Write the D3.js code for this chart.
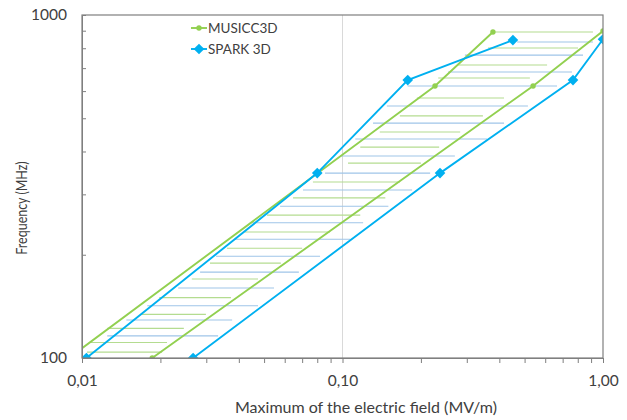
<!DOCTYPE html>
<html>
<head>
<meta charset="utf-8">
<script src="https://cdn.jsdelivr.net/npm/d3@7"></script>
<style>
  body { margin: 0; background: #fff; }
  text { font-family: Lato, "Open Sans", sans-serif; fill: #404040; }
</style>
</head>
<body>
<div id="chart"></div>
<script>
// MUSICC3D boundaries (field in MV/m, frequency in MHz)
const musiccLeftField = [0.0089, 0.2265, 0.378];
const musiccLeftFreq = [100, 621, 892];
const musiccRightField = [1.0, 0.539, 0.0186];
const musiccRightFreq = [898, 621, 100];

// SPARK 3D boundaries
const sparkLeftField = [0.0104, 0.08, 0.178, 0.451];
const sparkLeftFreq = [100, 346, 646, 845];
const sparkRightField = [1.0, 0.767, 0.2368, 0.0267];
const sparkRightFreq = [850, 646, 346, 100];

// hatching (frequency, field from, field to)
const greenHatchFreq = [892, 801, 715, 655, 573, 508, 456, 412, 370, 326, 293, 261, 233, 209, 189, 170, 150, 134, 122, 111, 104];
const greenHatchFrom = [0.385, 0.362, 0.278, 0.233, 0.193, 0.166, 0.139, 0.117, 0.105, 0.077, 0.0646, 0.0513, 0.0422, 0.036, 0.031, 0.0264, 0.0198, 0.0168, 0.0125, 0.0108, 0.01045];
const greenHatchTo = [0.915, 0.802, 0.61, 0.524, 0.417, 0.346, 0.283, 0.235, 0.2, 0.166, 0.146, 0.117, 0.0895, 0.07, 0.058, 0.0474, 0.0373, 0.0299, 0.0246, 0.0212, 0.0203];

const blueHatchFreq = [834, 764, 682, 621, 543, 484, 435, 388, 346, 309, 277, 248, 222, 198, 178, 160, 142, 129, 116];
const blueHatchFrom = [0.468, 0.295, 0.254, 0.178, 0.148, 0.131, 0.112, 0.0978, 0.0857, 0.0705, 0.0576, 0.0441, 0.0383, 0.0327, 0.0284, 0.0234, 0.0178, 0.0148, 0.0125];
const blueHatchTo = [0.915, 0.838, 0.76, 0.666, 0.515, 0.417, 0.359, 0.27, 0.217, 0.185, 0.15, 0.12, 0.107, 0.082, 0.068, 0.0546, 0.0474, 0.0377, 0.0333];

const xMinor = [0.02, 0.03, 0.04, 0.05, 0.06, 0.07, 0.08, 0.09, 0.2, 0.3, 0.4, 0.5, 0.6, 0.7, 0.8, 0.9];
const xMajor = [0.01, 0.1, 1];
const yMinor = [200, 300, 400, 500, 600, 700, 800, 900];
const yMajor = [100, 1000];

const seriesNames = ["MUSICC3D", "SPARK 3D"];
const green = "#92d050", blue = "#00b0f0";

const W = 627, H = 420;
const margin = { top: 15, right: 24, bottom: 62, left: 82 };

const svg = d3.select("#chart").append("svg")
  .attr("width", W).attr("height", H);

const x = d3.scaleLog().domain([0.01, 1]).range([margin.left, W - margin.right]);
const y = d3.scaleLog().domain([100, 1000]).range([H - margin.bottom, margin.top]);

svg.append("clipPath").attr("id", "plot-clip")
  .append("rect")
  .attr("x", x(0.01)).attr("y", y(1000))
  .attr("width", x(1) - x(0.01)).attr("height", y(100) - y(1000));

// vertical gridline at 0,10
svg.append("line")
  .attr("x1", x(0.1)).attr("x2", x(0.1))
  .attr("y1", y(1000)).attr("y2", y(100))
  .attr("stroke", "#d9d9d9").attr("stroke-width", 1);

const plot = svg.append("g").attr("clip-path", "url(#plot-clip)");

function hatch(freq, from, to, color) {
  plot.append("g").selectAll("line")
    .data(freq.map((f, i) => ({ f: f, a: from[i], b: to[i] })))
    .enter().append("line")
    .attr("x1", d => x(d.a)).attr("x2", d => x(d.b))
    .attr("y1", d => y(d.f)).attr("y2", d => y(d.f))
    .attr("stroke", color).attr("stroke-width", 1.1);
}
hatch(greenHatchFreq, greenHatchFrom, greenHatchTo, "#b4dc90");
hatch(blueHatchFreq, blueHatchFrom, blueHatchTo, "#9fc5e8");

const line = d3.line().x(d => x(d[0])).y(d => y(d[1]));
const zip = (a, b) => a.map((v, i) => [v, b[i]]);

const diamond = d3.symbol().type(d3.symbolDiamond2).size(72);

function series(field, freq, color, isDiamond) {
  const pts = zip(field, freq);
  plot.append("path").datum(pts)
    .attr("d", line).attr("fill", "none")
    .attr("stroke", color).attr("stroke-width", 1.9);
  if (isDiamond) {
    plot.append("g").selectAll("path").data(pts).enter().append("path")
      .attr("d", diamond)
      .attr("transform", d => `translate(${x(d[0])},${y(d[1])})`)
      .attr("fill", color);
  } else {
    plot.append("g").selectAll("circle").data(pts).enter().append("circle")
      .attr("cx", d => x(d[0])).attr("cy", d => y(d[1])).attr("r", 2.7)
      .attr("fill", color);
  }
}
series(musiccLeftField, musiccLeftFreq, green, false);
series(musiccRightField, musiccRightFreq, green, false);
series(sparkLeftField, sparkLeftFreq, blue, true);
series(sparkRightField, sparkRightFreq, blue, true);

// axes
const axisColor = "#7f7f7f";
const fmt = d => d3.format(".2f")(d).replace(".", ",");

svg.append("g").attr("transform", `translate(0,${y(100)})`)
  .call(d3.axisBottom(x).tickValues(xMinor.concat(xMajor)).tickSize(5).tickFormat(""));
const xLabels = svg.append("g").attr("transform", `translate(0,${y(100)})`)
  .call(d3.axisBottom(x).tickValues(xMajor).tickSize(0).tickPadding(17).tickFormat(fmt));
xLabels.select(".domain").remove();

svg.append("g").attr("transform", `translate(${x(0.01)},0)`)
  .call(d3.axisRight(y).tickValues(yMinor).tickSize(4).tickFormat(""));
const yLabels = svg.append("g").attr("transform", `translate(${x(0.01)},0)`)
  .call(d3.axisLeft(y).tickValues(yMajor).tickSize(0).tickPadding(15).tickFormat(d3.format("d")));
yLabels.select(".domain").remove();

svg.selectAll(".tick line").attr("stroke", axisColor);
svg.selectAll(".domain").attr("stroke", axisColor);
svg.selectAll(".tick text").style("font-size", "15.5px").attr("fill", "#404040");

// frame
svg.append("rect")
  .attr("x", x(0.01)).attr("y", y(1000))
  .attr("width", x(1) - x(0.01)).attr("height", y(100) - y(1000))
  .attr("fill", "none").attr("stroke", axisColor).attr("stroke-width", 1.2);

// axis titles
svg.append("text")
  .attr("x", 366).attr("y", 407).attr("dy", "0.35em")
  .attr("text-anchor", "middle").style("font-size", "16px")
  .text("Maximum of the electric field (MV/m)");

svg.append("text")
  .attr("transform", "translate(21,208) rotate(-90) scale(0.78,1)")
  .attr("dy", "0.35em")
  .attr("text-anchor", "middle").style("font-size", "16px")
  .text("Frequency  (MHz)");

// legend
const legend = svg.append("g");
[green, blue].forEach((c, i) => {
  const ly = 28 + i * 21;
  legend.append("line")
    .attr("x1", 191).attr("x2", 207).attr("y1", ly).attr("y2", ly)
    .attr("stroke", c).attr("stroke-width", 1.9);
  if (i === 0) {
    legend.append("circle").attr("cx", 199).attr("cy", ly).attr("r", 2.7).attr("fill", c);
  } else {
    legend.append("path").attr("d", diamond).attr("transform", `translate(199,${ly})`).attr("fill", c);
  }
  legend.append("text")
    .attr("x", 208).attr("y", ly).attr("dy", "0.35em")
    .style("font-size", "13.5px")
    .text(seriesNames[i]);
});
</script>
</body>
</html>
